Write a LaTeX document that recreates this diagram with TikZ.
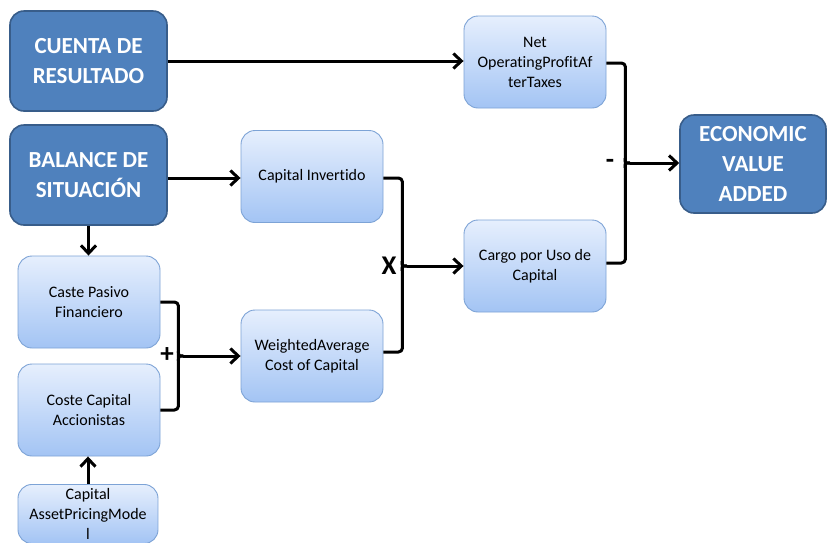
\documentclass[tikz,border=0pt]{standalone}
\usepackage{fontspec}
\setmainfont{Carlito}[Ligatures=NoCommon]
\usetikzlibrary{arrows.meta,calc}
\definecolor{darkfill}{RGB}{79,129,189}
\definecolor{darkedge}{RGB}{56,93,138}
\definecolor{lighttop}{RGB}{230,239,253}
\definecolor{lightbot}{RGB}{163,196,244}
\definecolor{lightedge}{RGB}{125,163,214}
\tikzset{
  darkbox/.style={draw=darkedge, line width=1.6pt, fill=darkfill, rounded corners=14pt,
    minimum width=157pt, minimum height=100pt, align=center, text=white,
    font=\fontsize{23}{30}\selectfont\bfseries},
  lightbox/.style={draw=lightedge, line width=0.9pt, top color=lighttop, bottom color=lightbot,
    rounded corners=14pt, minimum width=142pt, minimum height=92pt, align=center,
    font=\fontsize{16}{20}\selectfont},
  conn/.style={line width=3pt, line join=round},
  arr/.style={conn, -{Straight Barb[length=8pt,width=15pt,line width=3pt]}},
  sign/.style={font=\fontsize{27}{27}\selectfont\bfseries}
}
\begin{document}
\begin{tikzpicture}[x=1pt,y=-1pt]
\useasboundingbox (0,0) rectangle (827,542);
\fill[white] (0,0) rectangle (827,542);

% source statements
\node[darkbox] (cuenta) at (88.5,61) {CUENTA DE\\RESULTADO};
\node[darkbox] (balance) at (88.5,175) {BALANCE DE\\SITUACIÓN};
\node[darkbox, minimum width=146pt, minimum height=98pt] (eva) at (753,164) {ECONOMIC\\VALUE\\ADDED};

% intermediate quantities
\node[lightbox] (nopat) at (535,62) {Net\\OperatingProfitAf\\terTaxes};
\node[lightbox] (capinv) at (312,176.5) {Capital Invertido};
\node[lightbox] (cargo) at (535,266) {Cargo por Uso de\\Capital};
\node[lightbox] (wacc) at (312,356) {WeightedAverage\\Cost of Capital};
\node[lightbox] (pasivo) at (89,302) {Caste Pasivo\\Financiero};
\node[lightbox] (accion) at (89,410) {Coste Capital\\Accionistas};
\node[lightbox, minimum height=0pt, minimum width=140pt, inner ysep=4pt, anchor=north] (capm) at (88,484)
  {Capital\\AssetPricingMode\\l};

% straight arrows
\draw[arr] (cuenta.east) -- (cuenta.east -| nopat.west);
\draw[arr] ($(balance.east)+(0,3)$) -- ($(balance.east -| capinv.west)+(0,3)$);
\draw[arr] (balance.south) -- (balance.south |- pasivo.north);
\draw[arr] (capm.north) -- (capm.north |- accion.south);

% brace: Kd + Ke
\draw[conn, rounded corners=4pt] (pasivo.east) -- ++(18,0) |- (accion.east);
\coordinate (ptip) at ($(pasivo.east)!0.5!(accion.east)+(23,0)$);
\draw[conn] ($(ptip)+(-5,-5)$) .. controls ($(ptip)+(-5,0)$) .. (ptip);
\draw[conn] ($(ptip)+(-5,5)$) .. controls ($(ptip)+(-5,0)$) .. (ptip);
\draw[arr] (ptip) -- (ptip -| wacc.west);
\node[sign] (plus) at (167,355) {+};

% brace: capital x wacc
\draw[conn, rounded corners=4pt] ($(capinv.east)+(0,1.5)$) -- ++(19,0) |- ($(wacc.east)+(0,-4)$);
\coordinate (xtip) at (407,266);
\draw[conn] ($(xtip)+(-5,-5)$) .. controls ($(xtip)+(-5,0)$) .. (xtip);
\draw[conn] ($(xtip)+(-5,5)$) .. controls ($(xtip)+(-5,0)$) .. (xtip);
\draw[arr] (xtip) -- (xtip -| cargo.west);
\node[sign] (times) at (389,266) {X};

% brace: nopat - cargo
\draw[conn, rounded corners=4pt] ($(nopat.east)+(0,1)$) -- ++(19,0) |- ($(cargo.east)+(0,-3)$);
\coordinate (mtip) at (630,163);
\draw[conn] ($(mtip)+(-5,-5)$) .. controls ($(mtip)+(-5,0)$) .. (mtip);
\draw[conn] ($(mtip)+(-5,5)$) .. controls ($(mtip)+(-5,0)$) .. (mtip);
\draw[arr] (mtip) -- (mtip -| eva.west);
\node[sign] (minus) at (610,164) {-};
\end{tikzpicture}
\end{document}
